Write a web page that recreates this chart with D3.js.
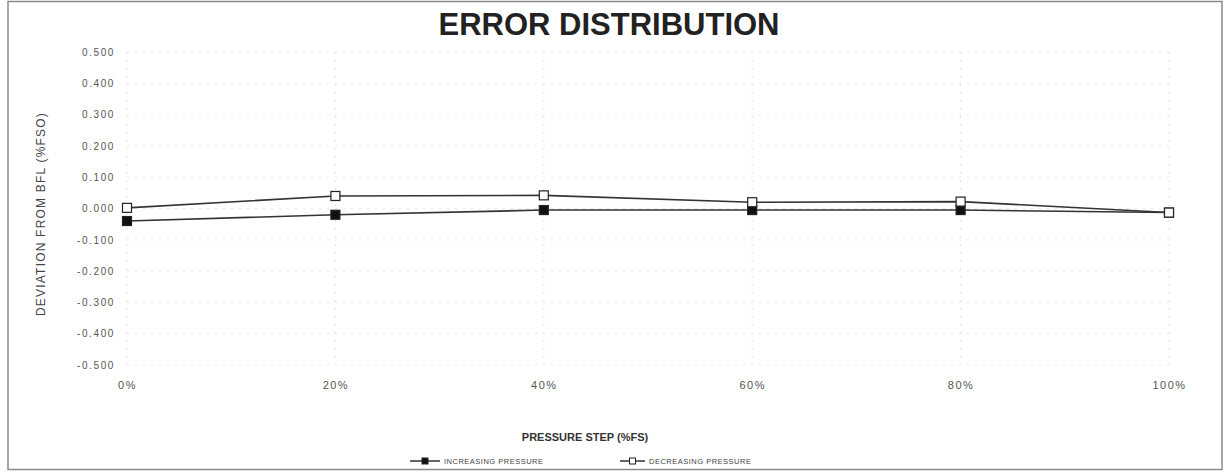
<!DOCTYPE html>
<html>
<head>
<meta charset="utf-8">
<script src="https://cdn.jsdelivr.net/npm/d3@7"></script>
<style>
  html, body { margin: 0; padding: 0; background: #fff; }
  svg { display: block; }
</style>
</head>
<body>
<svg id="chart" width="1225" height="472"></svg>
<script>
const categories = ["0%", "20%", "40%", "60%", "80%", "100%"];
const increasingPressure = [-0.040, -0.020, -0.005, -0.005, -0.005, -0.013];
const decreasingPressure = [0.002, 0.040, 0.042, 0.020, 0.022, -0.013];
const yTicks = [0.5, 0.4, 0.3, 0.2, 0.1, 0.0, -0.1, -0.2, -0.3, -0.4, -0.5];
const seriesNames = ["INCREASING PRESSURE", "DECREASING PRESSURE"];

const svg = d3.select("#chart");
const FONT = "Liberation Sans, Arial, sans-serif";

// outer frame
svg.append("rect").attr("x", 8).attr("y", 1.5).attr("width", 1214).attr("height", 468)
  .attr("fill", "#fff").attr("stroke", "#8a8a8a").attr("stroke-width", 1.5);

const x = d3.scalePoint().domain(categories).range([127, 1169]);
const y = d3.scaleLinear().domain([-0.5, 0.5]).range([365, 52]);

// gridlines (faint)
const grid = svg.append("g");
grid.selectAll("line.h").data(yTicks).join("line")
  .attr("x1", 127).attr("x2", 1169)
  .attr("y1", d => y(d)).attr("y2", d => y(d))
  .attr("stroke", "#e8e8e8").attr("stroke-width", 1).attr("stroke-dasharray", "2,6");
grid.selectAll("line.v").data(categories).join("line")
  .attr("x1", d => x(d)).attr("x2", d => x(d))
  .attr("y1", y(0.5)).attr("y2", y(-0.5))
  .attr("stroke", "#e2e2e2").attr("stroke-width", 1).attr("stroke-dasharray", "2,6");

// y axis labels
const yAxis = d3.axisLeft(y).tickValues(yTicks).tickSize(0).tickPadding(12)
  .tickFormat(d => d3.format(".3f")(d).replace("−", "-"));
const gy = svg.append("g").attr("transform", "translate(127,0)").call(yAxis);
gy.select(".domain").remove();
gy.selectAll("text").attr("font-family", FONT)
  .attr("font-size", 10).attr("letter-spacing", 1.6).attr("fill", "#555");

// x axis labels
const xAxis = d3.axisBottom(x).tickSize(0).tickPadding(12);
const gx = svg.append("g").attr("transform", "translate(0,369)").call(xAxis);
gx.select(".domain").remove();
gx.selectAll("text").attr("font-family", FONT)
  .attr("font-size", 11).attr("letter-spacing", 1.5).attr("fill", "#555");

// title
svg.append("text").attr("x", 609).attr("y", 35).attr("text-anchor", "middle")
  .attr("font-family", FONT).attr("font-weight", "bold")
  .attr("font-size", 31).attr("fill", "#222").text("ERROR DISTRIBUTION");

// axis titles
svg.append("text").attr("transform", "translate(45,214) rotate(-90)")
  .attr("text-anchor", "middle")
  .attr("font-family", FONT).attr("letter-spacing", 1.2)
  .attr("font-size", 12).attr("fill", "#444").text("DEVIATION FROM BFL (%FSO)");
svg.append("text").attr("x", 585).attr("y", 441).attr("text-anchor", "middle")
  .attr("font-family", FONT).attr("font-weight", "bold")
  .attr("font-size", 11).attr("fill", "#333").text("PRESSURE STEP (%FS)");

// lines
const line = d3.line().x((d, i) => x(categories[i])).y(d => y(d));
const series = [
  { name: seriesNames[0], values: increasingPressure, fill: "#111" },
  { name: seriesNames[1], values: decreasingPressure, fill: "#fff" }
];
series.forEach(s => {
  svg.append("path").datum(s.values).attr("d", line)
    .attr("fill", "none").attr("stroke", "#333").attr("stroke-width", 1.6);
});
series.forEach(s => {
  svg.append("g").selectAll("rect").data(s.values).join("rect")
    .attr("x", (d, i) => x(categories[i]) - 4.5)
    .attr("y", d => y(d) - 4.5)
    .attr("width", 9).attr("height", 9)
    .attr("fill", s.fill).attr("stroke", "#222").attr("stroke-width", 1.2);
});

// legend
const legendItems = [
  { name: seriesNames[0], fill: "#111", x0: 410, x1: 440, tx: 444 },
  { name: seriesNames[1], fill: "#fff", x0: 620, x1: 645, tx: 649 }
];
legendItems.forEach(l => {
  svg.append("line").attr("x1", l.x0).attr("x2", l.x1).attr("y1", 461).attr("y2", 461)
    .attr("stroke", "#333").attr("stroke-width", 1.5);
  const m = (l.x0 + l.x1) / 2;
  svg.append("rect").attr("x", m - 3).attr("y", 458).attr("width", 6).attr("height", 6)
    .attr("fill", l.fill).attr("stroke", "#222").attr("stroke-width", 1);
  svg.append("text").attr("x", l.tx).attr("y", 464)
    .attr("font-family", FONT).attr("letter-spacing", 0.5)
    .attr("font-size", 7.5).attr("fill", "#444").text(l.name);
});
</script>
</body>
</html>
